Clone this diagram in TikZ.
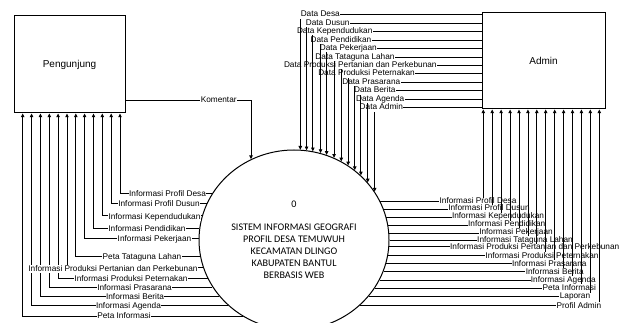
\documentclass[tikz,border=0pt]{standalone}
\usepackage{fontspec}
\setmainfont{Liberation Sans}
\newfontfamily\procfont{Carlito}
\usetikzlibrary{arrows.meta,shapes.geometric}

\tikzset{
  entity/.style={draw, line width=0.75pt, font=\fontsize{7.5}{9}\selectfont},
  process/.style={draw, ellipse, line width=0.75pt, minimum width=142.5pt, minimum height=135pt,
    inner sep=0pt, align=center, font=\procfont\fontsize{7.6}{9}\selectfont},
  flow/.style={line width=0.6pt, -{Triangle[length=2.8pt,width=2.6pt]}},
  lbl/.style={fill=white, inner sep=0.3pt, text height=4.2pt, text depth=1pt,
    font=\fontsize{6.2}{7}\selectfont},
}

\begin{document}
\begin{tikzpicture}[x=0.75pt,y=0.75pt,yscale=-1,xscale=1]
\useasboundingbox (0,0) rectangle (623,323);

% Process and external entities
\node[process] (sys) at (294,240) {0\\[8.25pt]SISTEM INFORMASI GEOGRAFI\\PROFIL DESA TEMUWUH\\KECAMATAN DLINGO\\KABUPATEN BANTUL\\BERBASIS WEB};
\node[entity, minimum width=83.25pt, minimum height=72.75pt] (peng) at (69.5,64.5) {Pengunjung};
\node[entity, minimum width=92.25pt, minimum height=72pt] (admin) at (543.5,61) {Admin};

%Straight Lines: Pengunjung to process
\draw[flow] (peng.east |- 0,100) -| (sys.118.2);
% Text Node
\node[lbl] (tKomentar) at (218.7,100) {Komentar};

%Straight Lines: Admin to process
\draw[flow] (admin.west |- 0,107.65) -| (sys.31.3);
\node[lbl] (tDAdmin) at (381.3,107.65) {Data Admin};
\draw[flow] (admin.west |- 0,99.2) -| (sys.38.1);
\node[lbl] (tDAgenda) at (380.2,99.2) {Data Agenda};
\draw[flow] (admin.west |- 0,90.75) -| (sys.44.1);
\node[lbl] (tDBerita) at (374.8,90.75) {Data Berita};
\draw[flow] (admin.west |- 0,82.3) -| (sys.49.6);
\node[lbl] (tDPrasarana) at (371.3,82.3) {Data Prasarana};
\draw[flow] (admin.west |- 0,73.85) -| (sys.54.9);
\node[lbl] (tDTernak) at (366.5,73.85) {Data Produksi Peternakan};
\draw[flow] (admin.west |- 0,65.4) -| (sys.59.8);
\node[lbl] (tDTani) at (360.3,65.4) {Data Produksi Pertanian dan Perkebunan};
\draw[flow] (admin.west |- 0,56.95) -| (sys.64.5);
\node[lbl] (tDLahan) at (355,56.95) {Data Tataguna Lahan};
\draw[flow] (admin.west |- 0,48.5) -| (sys.69.1);
\node[lbl] (tDKerja) at (348.3,48.5) {Data Pekerjaan};
\draw[flow] (admin.west |- 0,40.05) -| (sys.73.6);
\node[lbl] (tDDidik) at (341,40.05) {Data Pendidikan};
\draw[flow] (admin.west |- 0,31.6) -| (sys.78.1);
\node[lbl] (tDPenduduk) at (334.7,31.6) {Data Kependudukan};
\draw[flow] (admin.west |- 0,23.15) -| (sys.82.5);
\node[lbl] (tDDusun) at (327.7,23.15) {Data Dusun};
\draw[flow] (admin.west |- 0,14.7) -| (sys.86.8);
\node[lbl] (tDDesa) at (320.3,14.7) {Data Desa};

%Straight Lines: process to Admin
\draw[flow] (sys.24.0) -| (admin.south -| 483.3,0);
\node[lbl] (tRDesa) at (478,201.7) {Informasi Profil Desa};
\draw[flow] (sys.19.5) -| (admin.south -| 492.2,0);
\node[lbl] (tRDusun) at (489,208.5) {Informasi Profil Dusun};
\draw[flow] (sys.14.4) -| (admin.south -| 501.1,0);
\node[lbl] (tRPenduduk) at (498,216.5) {Informasi Kependudukan};
\draw[flow] (sys.9.4) -| (admin.south -| 510.1,0);
\node[lbl] (tRDidik) at (506.7,224.5) {Informasi Pendidikan};
\draw[flow] (sys.4.8) -| (admin.south -| 519.0,0);
\node[lbl] (tRKerja) at (516,232) {Informasi Pekerjaan};
\draw[flow] (sys.0) -| (admin.south -| 527.9,0);
\node[lbl] (tRLahan) at (525,240) {Informasi Tataguna Lahan};
\draw[flow] (sys.-4.5) -| (admin.south -| 536.8,0);
\node[lbl] (tRTani) at (534.7,247.5) {Informasi Produksi Pertanian dan Perkebunan};
\draw[flow] (sys.-9.7) -| (admin.south -| 545.7,0);
\node[lbl] (tRTernak) at (542,256) {Informasi Produksi Peternakan};
\draw[flow] (sys.-14.7) -| (admin.south -| 554.7,0);
\node[lbl] (tRPrasarana) at (549.3,264) {Informasi Prasarana};
\draw[flow] (sys.-19.8) -| (admin.south -| 563.6,0);
\node[lbl] (tRBerita) at (554.7,272) {Informasi Berita};
\draw[flow] (sys.-25.2) -| (admin.south -| 572.5,0);
\node[lbl] (tRAgenda) at (563.3,280) {Informasi Agenda};
\draw[flow] (sys.-31.1) -| (admin.south -| 581.4,0);
\node[lbl] (tRPeta) at (569.3,288.3) {Peta Informasi};
\draw[flow] (sys.-37.5) -| (admin.south -| 590.3,0);
\node[lbl] (tRLaporan) at (575,296.7) {Laporan};
\draw[flow] (sys.-45.6) -| (admin.south -| 599.3,0);
\node[lbl] (tRProfil) at (579,306) {Profil Admin};

%Straight Lines: process to Pengunjung
\draw[flow] (sys.236.2) -| (peng.south -| 22.7,0);
\node[lbl] (tLPeta) at (124,316) {Peta Informasi};
\draw[flow] (sys.225.6) -| (peng.south -| 31.6,0);
\node[lbl] (tLAgenda) at (128.5,306) {Informasi Agenda};
\draw[flow] (sys.217.8) -| (peng.south -| 40.4,0);
\node[lbl] (tLBerita) at (135,297) {Informasi Berita};
\draw[flow] (sys.210.9) -| (peng.south -| 49.3,0);
\node[lbl] (tLPrasarana) at (134.5,288) {Informasi Prasarana};
\draw[flow] (sys.204.5) -| (peng.south -| 58.1,0);
\node[lbl] (tLTernak) at (131,279) {Informasi Produksi Peternakan};
\draw[flow] (sys.197.9) -| (peng.south -| 67,0);
\node[lbl] (tLTani) at (113,269) {Informasi Produksi Pertanian dan Perkebunan};
\draw[flow] (sys.190.3) -| (peng.south -| 75.8,0);
\node[lbl] (tLLahan) at (142,257) {Peta Tataguna Lahan};
\draw[flow] (sys.179.4) -| (peng.south -| 84.6,0);
\node[lbl] (tLKerja) at (154.5,239) {Informasi Pekerjaan};
\draw[flow] (sys.173.3) -| (peng.south -| 93.5,0);
\node[lbl] (tLDidik) at (147,229) {Informasi Pendidikan};
\draw[flow] (sys.165.9) -| (peng.south -| 102.3,0);
\node[lbl] (tLPenduduk) at (154.5,217) {Informasi Kependudukan};
\draw[flow] (sys.157.5) -| (peng.south -| 111.2,0);
\node[lbl] (tLDusun) at (159,204) {Informasi Profil Dusun};
\draw[flow] (sys.150.6) -| (peng.south -| 120,0);
\node[lbl] (tLDesa) at (167.5,194) {Informasi Profil Desa};

\end{tikzpicture}
\end{document}
